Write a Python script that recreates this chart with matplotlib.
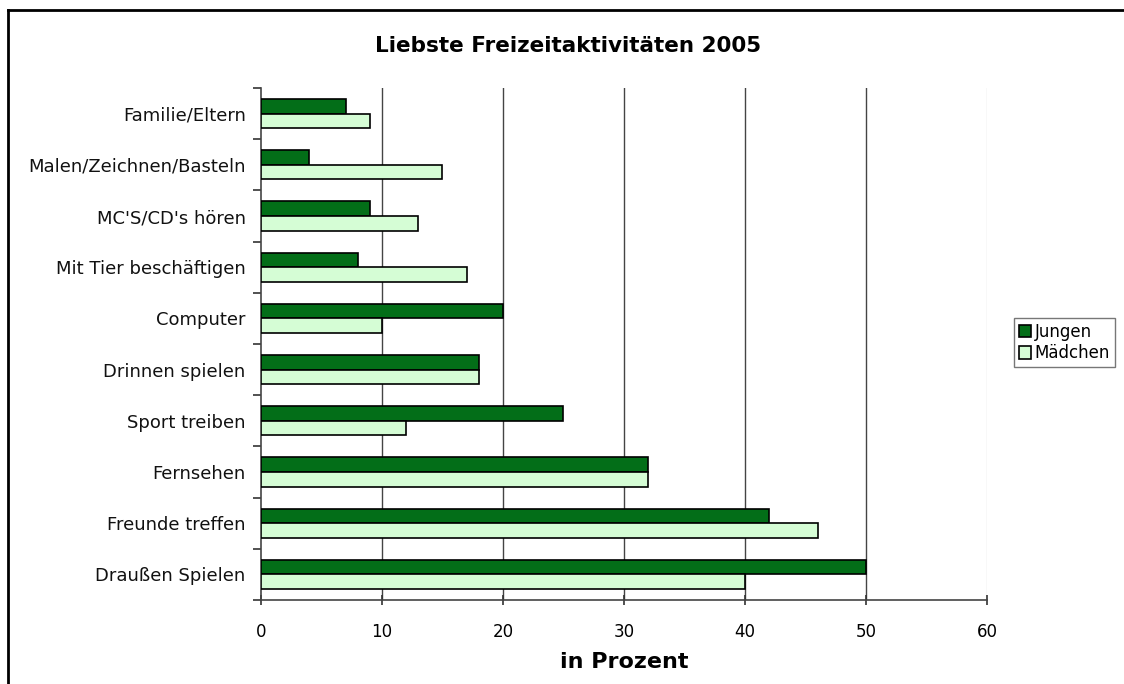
import matplotlib.pyplot as plt
import numpy as np
from matplotlib.lines import Line2D

kategorien = ['Draußen Spielen', 'Freunde treffen', 'Fernsehen', 'Sport treiben',
              'Drinnen spielen', 'Computer', 'Mit Tier beschäftigen',
              "MC'S/CD's hören", 'Malen/Zeichnen/Basteln', 'Familie/Eltern']
jungen = [50, 42, 32, 25, 18, 20, 8, 9, 4, 7]
maedchen = [40, 46, 32, 12, 18, 10, 17, 13, 15, 9]
x_ticks = [0, 10, 20, 30, 40, 50, 60]

farbe_jungen = '#036e18'
farbe_maedchen = '#d5fdd5'

plt.rcParams['font.family'] = ['DejaVu Sans']

fig = plt.figure(figsize=(11.24, 6.84), dpi=100)
ax = fig.add_axes([0.2322, 0.1228, 0.6459, 0.7485])

y = np.arange(len(kategorien))
h = 0.285
ax.barh(y + h / 2, jungen, height=h, color=farbe_jungen, edgecolor='black',
        linewidth=1.2, label='Jungen', zorder=3)
ax.barh(y - h / 2, maedchen, height=h, color=farbe_maedchen, edgecolor='black',
        linewidth=1.2, label='Mädchen', zorder=3)

ax.set_xlim(0, 60)
ax.set_ylim(-0.5, len(kategorien) - 0.5)
ax.set_xticks(x_ticks)
ax.set_xticklabels([str(t) for t in x_ticks], fontsize=12)
ax.set_yticks(y)
ax.set_yticklabels(kategorien, fontsize=13, color='#111111')
ax.set_yticks(np.arange(-0.5, len(kategorien)), minor=True)
ax.tick_params(axis='y', which='major', length=0, pad=11)
ax.tick_params(axis='y', which='minor', length=6, width=1.2, color='#333333',
               direction='out')
ax.tick_params(axis='x', length=7, width=1.2, color='#333333', direction='inout',
               pad=13)

# Gitterlinien
for t in x_ticks[1:]:
    ax.axvline(t, color='#dddddd' if t == 60 else '#444444', linewidth=1.0, zorder=1)

for s in ['top', 'right']:
    ax.spines[s].set_visible(False)
for s in ['left', 'bottom']:
    ax.spines[s].set_color('#444444')
    ax.spines[s].set_linewidth(1.2)

ax.set_xlabel('in Prozent', fontsize=16, fontweight='bold', labelpad=8)
fig.text(0.505, 0.933, 'Liebste Freizeitaktivitäten 2005', fontsize=15.5,
         fontweight='bold', ha='center', va='center')

leg = ax.legend(loc='upper left', bbox_to_anchor=(0.902, 0.535),
                bbox_transform=fig.transFigure, fontsize=12, frameon=True,
                fancybox=False, edgecolor='#555555', handlelength=0.75,
                handleheight=0.75, handletextpad=0.2, borderpad=0.3,
                labelspacing=0.2, borderaxespad=0)
leg.get_frame().set_linewidth(1.0)

# Rahmen um das Diagramm
fig.add_artist(Line2D([0.0075, 0.0075], [0.0, 0.986], color='black',
                      linewidth=2, transform=fig.transFigure))
fig.add_artist(Line2D([0.0075, 1.0], [0.986, 0.986], color='black',
                      linewidth=2, transform=fig.transFigure))

fig.savefig('out.png', dpi=100)
plt.close()
